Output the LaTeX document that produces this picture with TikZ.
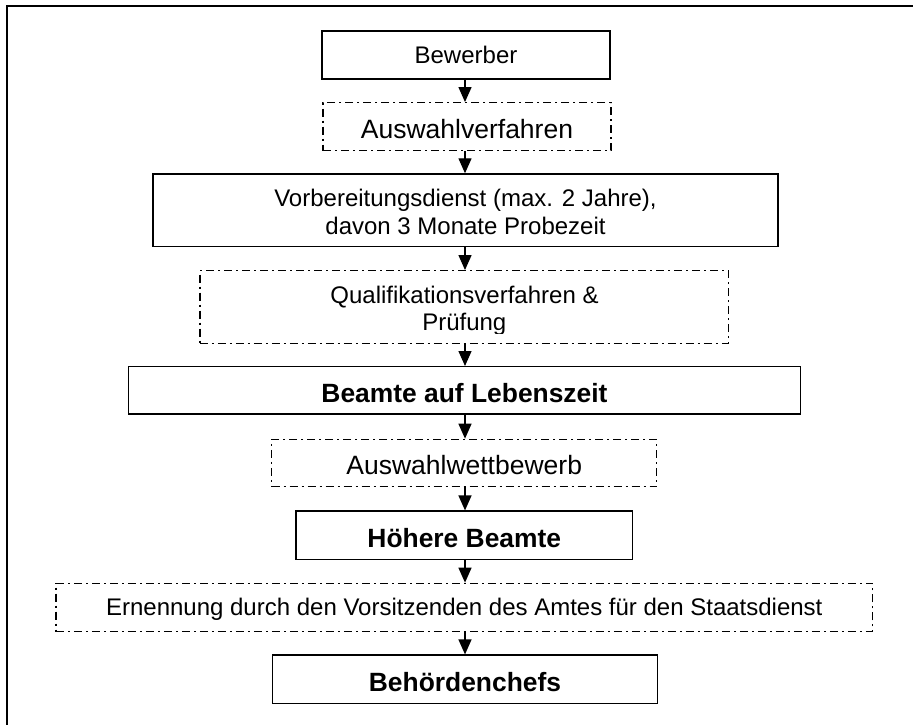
\documentclass[tikz,border=0pt]{standalone}
\usepackage{fontspec}
\setmainfont{Liberation Sans}
\usetikzlibrary{arrows.meta}
\begin{document}
\begin{tikzpicture}[x=1pt,y=1pt,
  box/.style={draw, line width=1.3pt, inner sep=0pt, text height=20pt, text depth=3.2pt,
              font=\fontsize{24}{27.6}\selectfont},
  solidbox/.style={box},
  ddbox/.style={box, dash pattern=on 8pt off 4pt on 2pt off 4pt},
  bigtxt/.style={font=\fontsize{26.5}{30}\selectfont, text height=26pt, text depth=2.2pt},
  boldtxt/.style={font=\fontsize{26.4}{30}\selectfont\bfseries, text height=26pt, text depth=2.2pt},
  arr/.style={line width=1.3pt, -{Triangle[width=13pt,length=15pt]}},
  linetxt/.style={anchor=base, inner sep=0pt, font=\fontsize{24}{27.6}\selectfont}
]
\useasboundingbox (0,0) rectangle (913,-724);
\clip (0,0) rectangle (913,-724);
\fill[white] (0,0) rectangle (913,-724);
% outer frame (cut off at right and bottom)
\draw[line width=2pt] (7,-6) rectangle (960,-780);

\coordinate (ax) at (465,0);

\node[solidbox, minimum width=288pt, minimum height=48pt] (bew) at (466,-55) {Bewerber};
\node[ddbox, bigtxt, minimum width=288pt, minimum height=48pt] (aus1) at (467,-126.7) {Auswahlverfahren};
\node[solidbox, minimum width=625pt, minimum height=72.7pt] (vor) at (465.5,-210.3) {};
\node[linetxt] (vor1) at (465.5,-206.7) {Vorbereitungsdienst (max. 2 Jahre),};
\node[linetxt] (vor2) at (465.5,-234) {davon 3 Monate Probezeit};
\node[ddbox, minimum width=528.7pt, minimum height=72.6pt] (qual) at (464.3,-307) {};
\begin{scope}
  \clip ([xshift=2pt,yshift=-2pt]qual.north west) rectangle ([xshift=-2pt,yshift=10.6pt]qual.south east);
  \node[linetxt] (qual1) at (464.5,-303.3) {Qualifikationsverfahren \&};
  \node[linetxt] (qual2) at (464.3,-330.3) {Prüfung};
\end{scope}
\node[solidbox, boldtxt, minimum width=672.4pt, minimum height=47.3pt] (lebz) at (464.5,-390.3) {Beamte auf Lebenszeit};
\node[ddbox, bigtxt, minimum width=385pt, minimum height=47.4pt] (aus2) at (464.2,-463) {Auswahlwettbewerb};
\node[solidbox, boldtxt, minimum width=336.7pt, minimum height=48.3pt] (hoe) at (464.3,-535.2) {Höhere Beamte};
\node[ddbox, minimum width=816.7pt, minimum height=48.4pt] (ern) at (464.3,-607.5) {Ernennung durch den Vorsitzenden des Amtes für den Staatsdienst};
\node[solidbox, boldtxt, minimum width=384.6pt, minimum height=48.3pt] (chef) at (465,-679.2) {Behördenchefs};

\draw[arr] (bew.south -| ax) -- (aus1.north -| ax);
\draw[arr] (aus1.south -| ax) -- (vor.north -| ax);
\draw[arr] (vor.south -| ax) -- (qual.north -| ax);
\draw[arr] (qual.south -| ax) -- (lebz.north -| ax);
\draw[arr] (lebz.south -| ax) -- (aus2.north -| ax);
\draw[arr] (aus2.south -| ax) -- (hoe.north -| ax);
\draw[arr] (hoe.south -| ax) -- (ern.north -| ax);
\draw[arr] (ern.south -| ax) -- (chef.north -| ax);
\end{tikzpicture}
\end{document}
